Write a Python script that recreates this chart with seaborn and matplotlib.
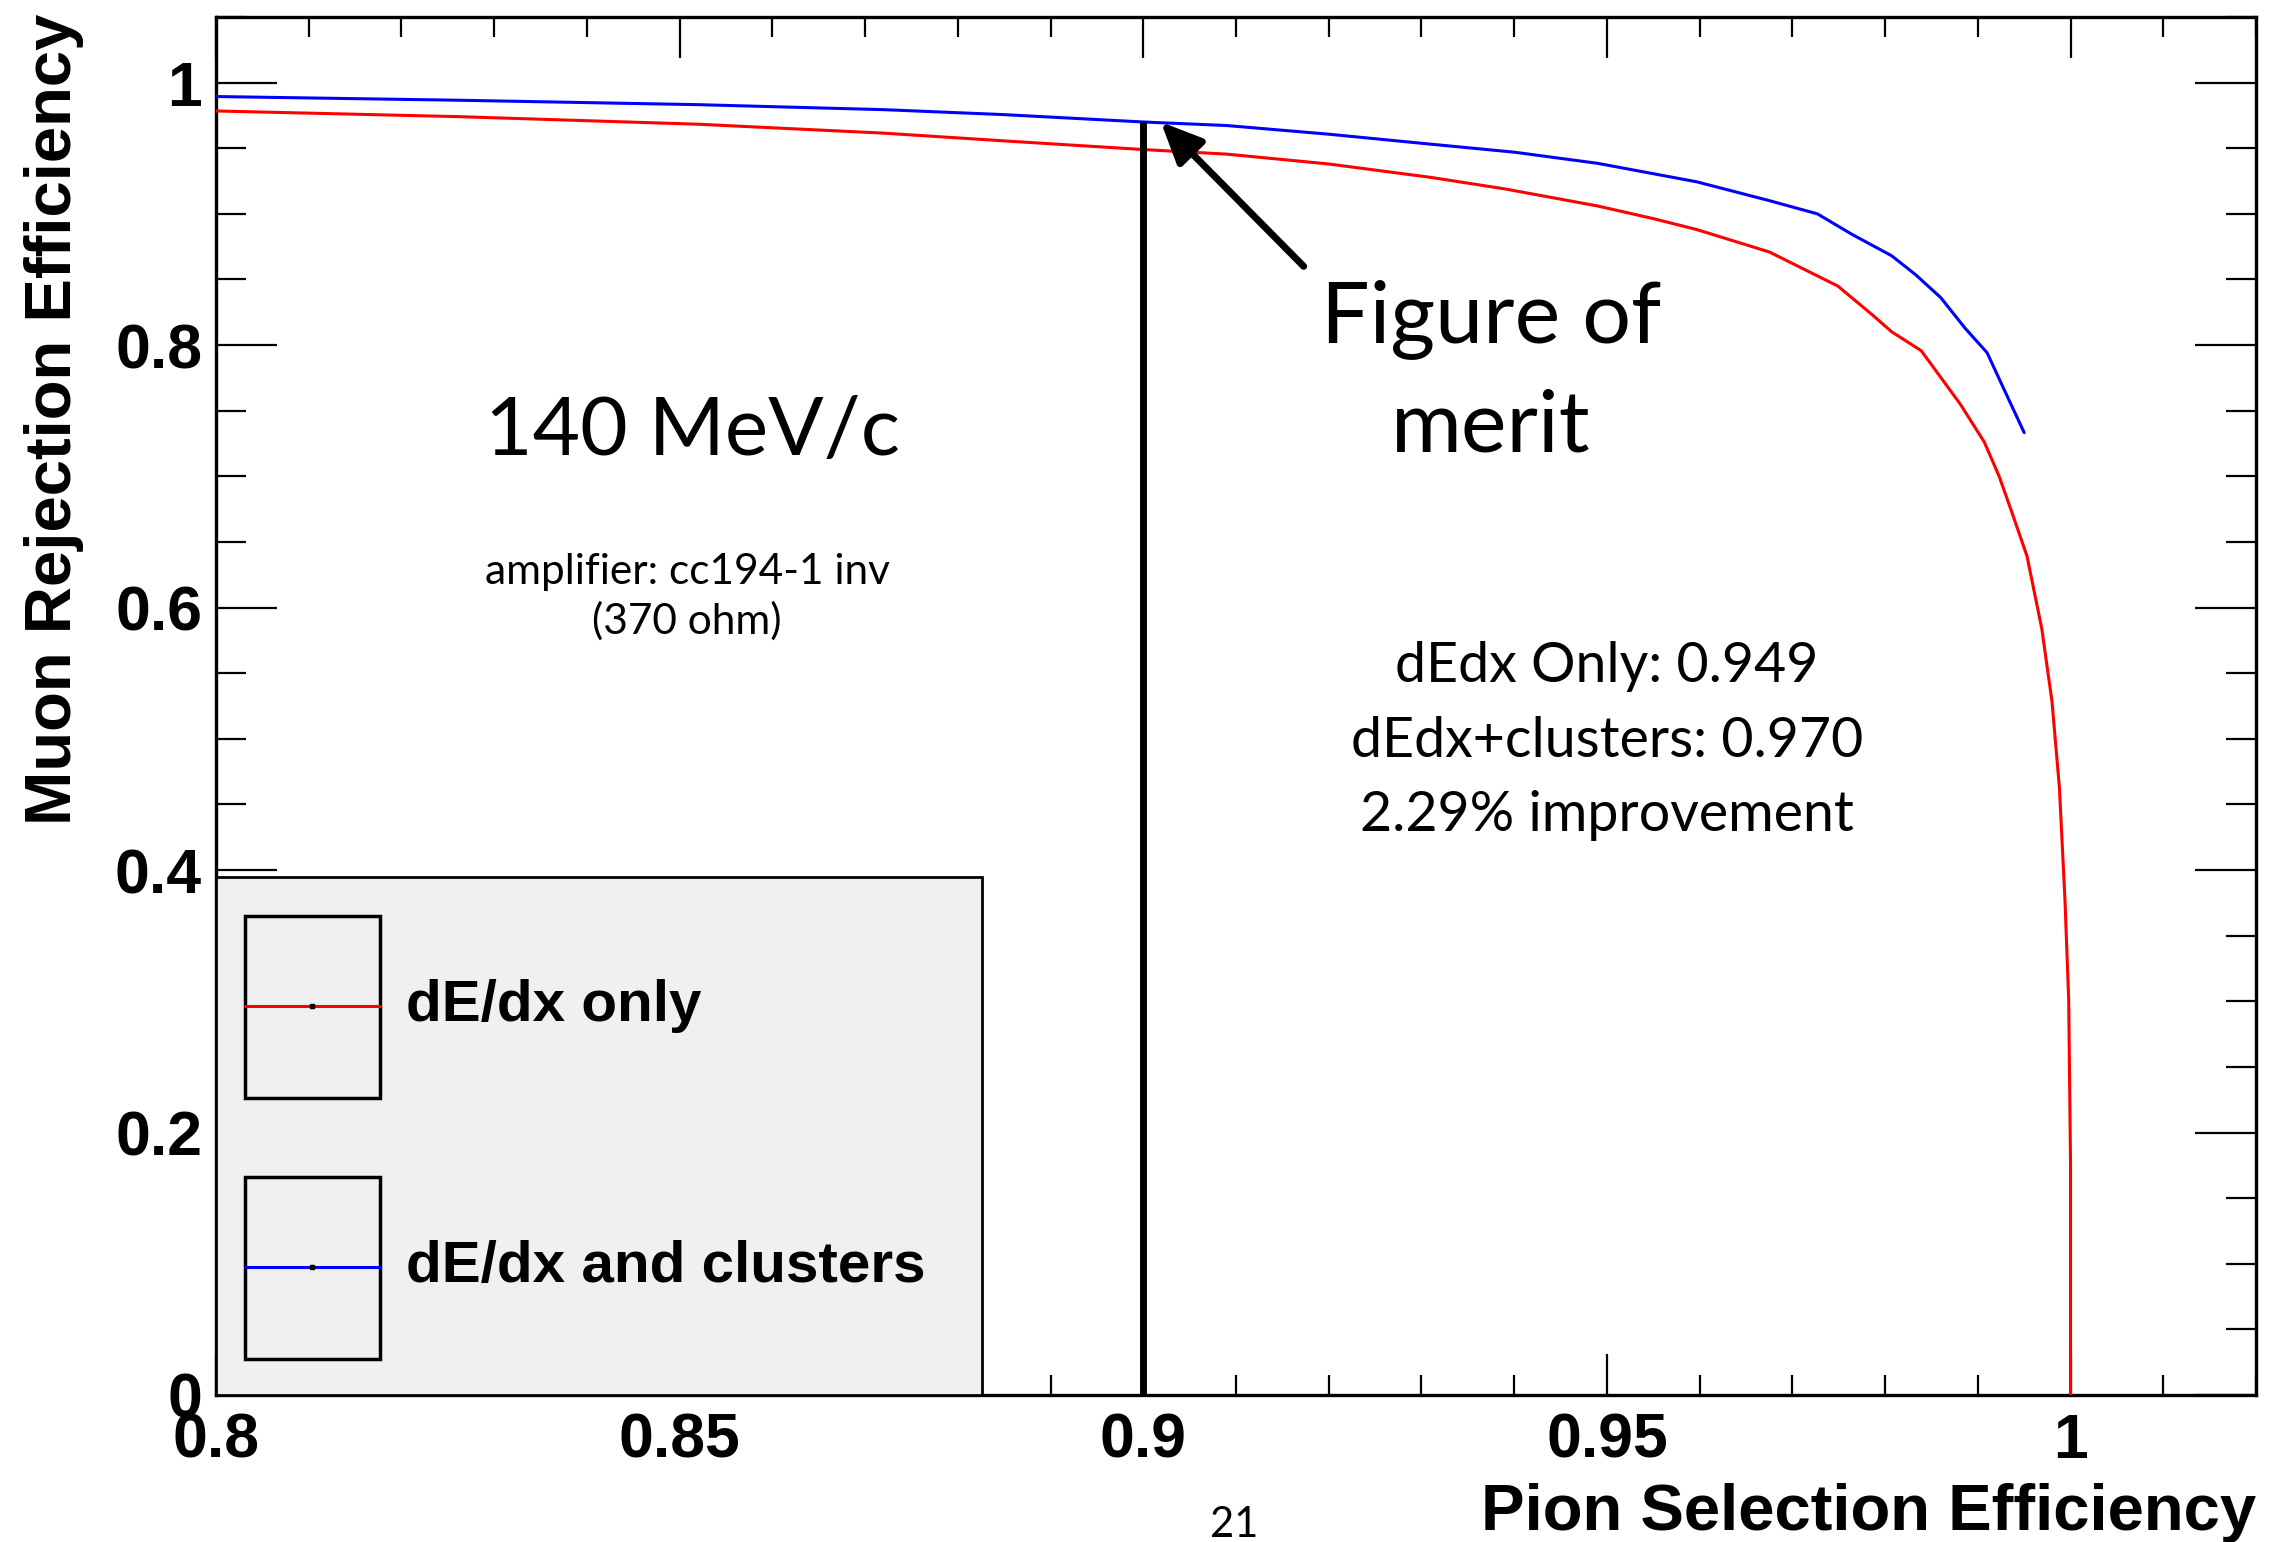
import matplotlib
matplotlib.use("Agg")
import matplotlib.pyplot as plt
from matplotlib.patches import Rectangle
from matplotlib.ticker import FixedLocator, FixedFormatter, MultipleLocator
import numpy as np
import pandas as pd
import seaborn as sns

# ---- data -------------------------------------------------------------
series_names = ["dE/dx only", "dE/dx and clusters"]
series_colors = ["#ff0000", "#0000ff"]

dedx_x = [0.800, 0.826, 0.852, 0.872, 0.885, 0.900, 0.909, 0.920, 0.931,
          0.939, 0.949, 0.9551, 0.9597, 0.9675, 0.9749, 0.9786, 0.9807,
          0.9839, 0.9860, 0.9881, 0.9907, 0.9923, 0.9937, 0.9953, 0.9969,
          0.9980, 0.9988, 0.9994, 0.9998, 1.0000, 1.0000]
dedx_y = [0.9784, 0.9741, 0.9683, 0.9615, 0.9556, 0.949, 0.9455, 0.9380,
          0.9278, 0.9190, 0.9060, 0.8962, 0.8880, 0.8710, 0.8450, 0.8232,
          0.8102, 0.7957, 0.7754, 0.7551, 0.7261, 0.7000, 0.6720, 0.6393,
          0.5839, 0.5284, 0.4628, 0.3770, 0.3013, 0.1751, 0.0]

clus_x = [0.800, 0.826, 0.852, 0.872, 0.885, 0.900, 0.909, 0.920, 0.931,
          0.940, 0.949, 0.9597, 0.9675, 0.9727, 0.9765, 0.9807, 0.9833,
          0.9860, 0.9886, 0.9910, 0.9928, 0.9950]
clus_y = [0.9894, 0.9866, 0.9832, 0.9794, 0.9756, 0.970, 0.9673, 0.9607,
          0.9531, 0.9470, 0.9385, 0.9244, 0.9101, 0.9000, 0.8841, 0.8681,
          0.8536, 0.8362, 0.8131, 0.7942, 0.7667, 0.7333]

merit_x = 0.9
merit_dedx = 0.949
merit_clus = 0.970

x_ticks = [0.8, 0.85, 0.9, 0.95, 1.0]
x_tick_labels = ["0.8", "0.85", "0.9", "0.95", "1"]
y_ticks = [0.0, 0.2, 0.4, 0.6, 0.8, 1.0]
y_tick_labels = ["0", "0.2", "0.4", "0.6", "0.8", "1"]

x_title = "Pion Selection Efficiency"
y_title = "Muon Rejection Efficiency"
momentum_text = "140 MeV/c"
amp_lines = ["amplifier: cc194-1 inv", "(370 ohm)"]
fom_lines = ["Figure of", "merit"]
stat_lines = [f"dEdx Only: {merit_dedx:.3f}",
              f"dEdx+clusters: {merit_clus:.3f}",
              "2.29% improvement"]
page_number = "21"

# ---- style ------------------------------------------------------------
sns.set_theme(style="ticks")
plt.rcParams["font.family"] = ["Liberation Sans", "DejaVu Sans"]
plt.rcParams["axes.linewidth"] = 2.4
plt.rcParams["text.color"] = "black"
plt.rcParams["axes.labelcolor"] = "black"
plt.rcParams["xtick.color"] = "black"
plt.rcParams["ytick.color"] = "black"
plt.rcParams["axes.edgecolor"] = "black"
ANNO_FONT = ["Lato", "DejaVu Sans"]

W, H = 2272, 1542
fig = plt.figure(figsize=(W / 100, H / 100), dpi=100)
ax = fig.add_axes([216 / W, 1 - 1395 / H, 2040 / W, 1378 / H])

df = pd.concat([
    pd.DataFrame({"eff_pi": dedx_x, "rej_mu": dedx_y, "method": series_names[0]}),
    pd.DataFrame({"eff_pi": clus_x, "rej_mu": clus_y, "method": series_names[1]}),
], ignore_index=True)

sns.lineplot(data=df, x="eff_pi", y="rej_mu", hue="method",
             hue_order=series_names, palette=series_colors,
             estimator=None, sort=False, lw=2.2, legend=False, ax=ax, zorder=3)

ax.set_xlim(0.8, 1.02)
ax.set_ylim(0, 1.05)
ax.set_xlabel("")
ax.set_ylabel("")

ax.xaxis.set_major_locator(FixedLocator(x_ticks))
ax.xaxis.set_major_formatter(FixedFormatter(x_tick_labels))
ax.xaxis.set_minor_locator(MultipleLocator(0.01))
ax.yaxis.set_major_locator(FixedLocator(y_ticks))
ax.yaxis.set_major_formatter(FixedFormatter(y_tick_labels))
ax.yaxis.set_minor_locator(MultipleLocator(0.05))

ax.tick_params(which="both", direction="in", top=True, right=True,
               width=1.6, color="black", labelsize=45, labelcolor="black")
ax.tick_params(axis="x", which="major", length=29.5, pad=12)
ax.tick_params(axis="x", which="minor", length=14.4)
ax.tick_params(axis="y", which="major", length=44, pad=10)
ax.tick_params(axis="y", which="minor", length=21.6)
for lbl in ax.get_xticklabels() + ax.get_yticklabels():
    lbl.set_fontweight("bold")
for sp in ax.spines.values():
    sp.set_color("black")
    sp.set_linewidth(2.4)

# axis titles
fig.text(2256 / W, 1 - 1530 / H, x_title, ha="right", va="baseline",
         fontsize=47, fontweight="bold", color="black")
fig.text(71 / W, 1 - 14 / H, y_title, rotation=90, rotation_mode="anchor",
         ha="right", va="baseline", fontsize=47, fontweight="bold",
         color="black")

# figure-of-merit marker line and arrow
ax.vlines(merit_x, 0, merit_clus, color="black", lw=5, zorder=4)
ax.annotate("", xy=(0.9019, merit_clus), xytext=(0.9173, 0.860),
            arrowprops=dict(arrowstyle="-|>,head_length=1.0,head_width=0.45",
                            mutation_scale=25, lw=5, color="black",
                            shrinkA=0, shrinkB=0), zorder=6)

# annotations
ax.text(0.8514, 0.7160, momentum_text, ha="center", va="baseline",
        fontsize=59, family=ANNO_FONT, color="black")
for txt, yb in zip(amp_lines, [0.6177, 0.5797]):
    ax.text(0.8508, yb, txt, ha="center", va="baseline", fontsize=30.5,
            family=ANNO_FONT, color="black")
for txt, yb in zip(fom_lines, [0.8025, 0.7188]):
    ax.text(0.9375, yb, txt, ha="center", va="baseline", fontsize=62,
            family=ANNO_FONT, color="black")
for txt, yb in zip(stat_lines, [0.5430, 0.4861, 0.4296]):
    ax.text(0.9500, yb, txt, ha="center", va="baseline", fontsize=40,
            family=ANNO_FONT, color="black")

# legend panel
ax.add_patch(Rectangle((0, 0), 0.3755, 0.3759, transform=ax.transAxes,
                       facecolor="#f0f0f0", edgecolor="black", lw=2.0,
                       zorder=5, clip_on=False))
box_bottoms = [0.2155, 0.0261]
box_h = 0.1321
for name, color, yb in zip(series_names, series_colors, box_bottoms):
    ax.add_patch(Rectangle((0.0142, yb), 0.0662, box_h, transform=ax.transAxes,
                           facecolor="none", edgecolor="black", lw=2.5,
                           zorder=6, clip_on=False))
    ly = yb + box_h * 0.505
    ax.plot([0.0142, 0.0804], [ly, ly], transform=ax.transAxes, color=color,
            lw=2.2, zorder=7, clip_on=False)
    ax.plot([0.0473], [ly], transform=ax.transAxes, marker="s", ms=2.5,
            color="black", zorder=8, clip_on=False)
    ax.text(0.0931, ly, name, transform=ax.transAxes, ha="left", va="center",
            fontsize=42, fontweight="bold", zorder=8, color="black")

fig.text(1234 / W, 1 - 1537 / H, page_number, ha="center", va="baseline",
         fontsize=30, family=ANNO_FONT, color="black")

fig.savefig("out.png", dpi=100, facecolor="white")
